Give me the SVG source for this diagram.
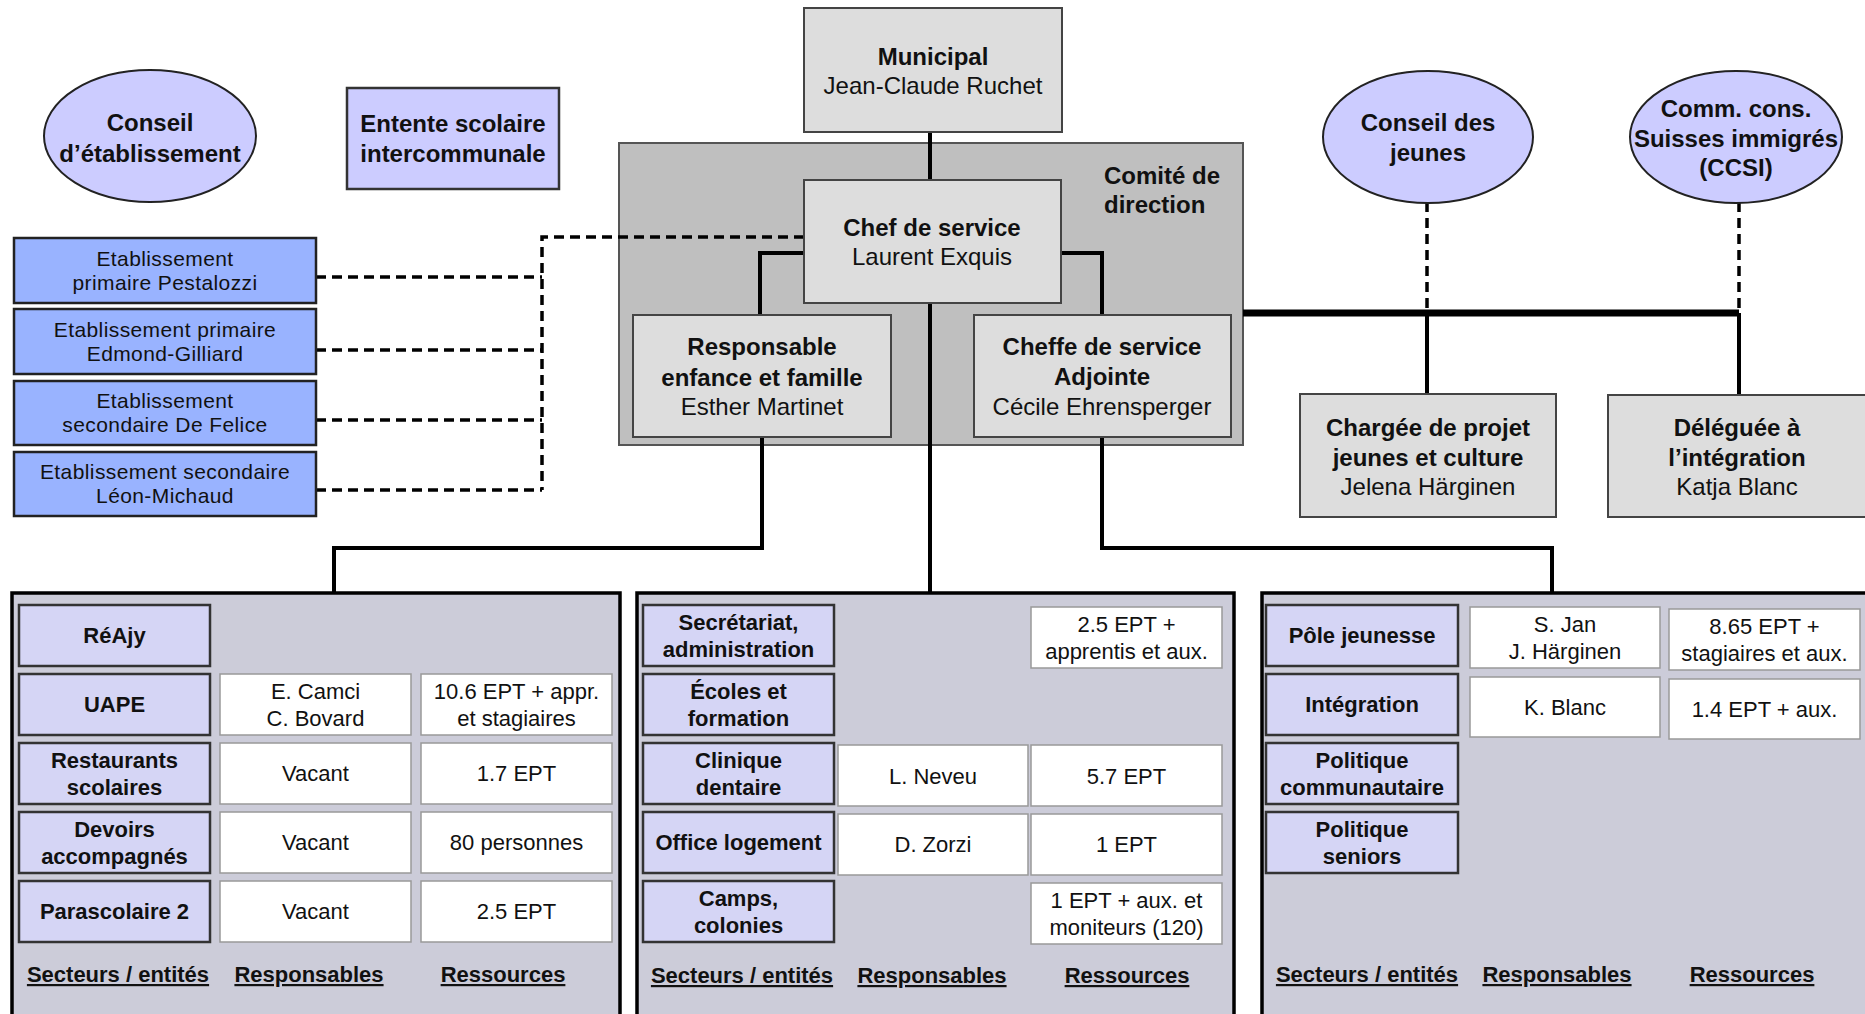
<svg xmlns="http://www.w3.org/2000/svg" width="1865" height="1014" viewBox="0 0 1865 1014">
<style>
text{font-family:"Liberation Sans",Arial,sans-serif;fill:#111;text-anchor:middle}
.t{font-size:24px;font-weight:bold}
.n{font-size:24px}
.e{font-size:21px;letter-spacing:0.4px}
.c{font-size:22px}
.cb{font-size:22px;font-weight:bold}
.f{font-size:22px;font-weight:bold;text-decoration:underline}
.ell{fill:#CCCCFF;stroke:#222;stroke-width:2}
.ent{fill:#CCCCFF;stroke:#333;stroke-width:2.5}
.etab{fill:#99B3FF;stroke:#222;stroke-width:2.5}
.gray{fill:#DDDDDD;stroke:#444;stroke-width:2}
.com{fill:#BFBFBF;stroke:#555;stroke-width:2}
.panel{fill:#CCCCD9;stroke:#000;stroke-width:3.5}
.sec{fill:#D5D5F5;stroke:#333;stroke-width:2.5}
.cell{fill:#fff;stroke:#999;stroke-width:1.5}
.sol{fill:none;stroke:#000;stroke-width:4}
.thick{fill:none;stroke:#000;stroke-width:7}
.dash{fill:none;stroke:#000;stroke-width:3.5;stroke-dasharray:10 6}
</style>

<g id="comite">
<rect class="com" x="619" y="143" width="624" height="302"/>
<text class="t" x="1104" y="184" style="text-anchor:start">Comité de</text>
<text class="t" x="1104" y="213" style="text-anchor:start">direction</text>
</g>

<g id="connectors">
<path class="sol" d="M930 132V180"/>
<path class="sol" d="M804 253H760V315"/>
<path class="sol" d="M1061 253H1102V315"/>
<path class="sol" d="M930 303V593"/>
<path class="sol" d="M762 437V548H334V593"/>
<path class="sol" d="M1102 437V548H1552V593"/>
<path class="thick" d="M1243 313H1739"/>
<path class="sol" d="M1427 313V394"/>
<path class="sol" d="M1739 313V395"/>
<path class="dash" d="M1427 202V313"/>
<path class="dash" d="M1739 202V313"/>
<path class="dash" d="M804 237H542V490"/>
<path class="dash" d="M316 277H542"/>
<path class="dash" d="M316 350H542"/>
<path class="dash" d="M316 420H542"/>
<path class="dash" d="M316 490H542"/>
</g>

<g id="conseil-etablissement">
<ellipse class="ell" cx="150" cy="136" rx="106" ry="66"/>
<text class="t" x="150" y="131">Conseil</text>
<text class="t" x="150" y="162">d’établissement</text>
</g>

<g id="entente">
<rect class="ent" x="347" y="88" width="212" height="101"/>
<text class="t" x="453" y="132">Entente scolaire</text>
<text class="t" x="453" y="162">intercommunale</text>
</g>

<g id="municipal">
<rect class="gray" x="804" y="8" width="258" height="124"/>
<text class="t" x="933" y="65">Municipal</text>
<text class="n" x="933" y="94">Jean-Claude Ruchet</text>
</g>

<g id="chef">
<rect class="gray" x="804" y="180" width="257" height="123"/>
<text class="t" x="932" y="236">Chef de service</text>
<text class="n" x="932" y="265">Laurent Exquis</text>
</g>

<g id="responsable">
<rect class="gray" x="633" y="315" width="258" height="122"/>
<text class="t" x="762" y="355">Responsable</text>
<text class="t" x="762" y="386">enfance et famille</text>
<text class="n" x="762" y="415">Esther Martinet</text>
</g>

<g id="cheffe">
<rect class="gray" x="974" y="315" width="257" height="122"/>
<text class="t" x="1102" y="355">Cheffe de service</text>
<text class="t" x="1102" y="385">Adjointe</text>
<text class="n" x="1102" y="415">Cécile Ehrensperger</text>
</g>

<g id="conseil-jeunes">
<ellipse class="ell" cx="1428" cy="137" rx="105" ry="66"/>
<text class="t" x="1428" y="131">Conseil des</text>
<text class="t" x="1428" y="161">jeunes</text>
</g>

<g id="ccsi">
<ellipse class="ell" cx="1736" cy="137" rx="106" ry="66"/>
<text class="t" x="1736" y="117">Comm. cons.</text>
<text class="t" x="1736" y="147">Suisses immigrés</text>
<text class="t" x="1736" y="176">(CCSI)</text>
</g>

<g id="chargee">
<rect class="gray" x="1300" y="394" width="256" height="123"/>
<text class="t" x="1428" y="436">Chargée de projet</text>
<text class="t" x="1428" y="466">jeunes et culture</text>
<text class="n" x="1428" y="495">Jelena Härginen</text>
</g>

<g id="deleguee">
<rect class="gray" x="1608" y="395" width="262" height="122"/>
<text class="t" x="1737" y="436">Déléguée à</text>
<text class="t" x="1737" y="466">l’intégration</text>
<text class="n" x="1737" y="495">Katja Blanc</text>
</g>

<g id="etab-pestalozzi">
<rect class="etab" x="14" y="238" width="302" height="65"/>
<text class="e" x="165" y="266">Etablissement</text>
<text class="e" x="165" y="290">primaire Pestalozzi</text>
</g>
<g id="etab-edmond-gilliard">
<rect class="etab" x="14" y="309" width="302" height="65"/>
<text class="e" x="165" y="337">Etablissement primaire</text>
<text class="e" x="165" y="361">Edmond-Gilliard</text>
</g>
<g id="etab-de-felice">
<rect class="etab" x="14" y="381" width="302" height="64"/>
<text class="e" x="165" y="408">Etablissement</text>
<text class="e" x="165" y="432">secondaire De Felice</text>
</g>
<g id="etab-leon-michaud">
<rect class="etab" x="14" y="452" width="302" height="64"/>
<text class="e" x="165" y="479">Etablissement secondaire</text>
<text class="e" x="165" y="503">Léon-Michaud</text>
</g>

<g id="panel-enfance">
<rect class="panel" x="12" y="593" width="608" height="440"/>
<rect class="sec" x="19" y="605" width="191" height="61"/>
<text class="cb" x="114.5" y="643">RéAjy</text>
<rect class="sec" x="19" y="674" width="191" height="61"/>
<text class="cb" x="114.5" y="712">UAPE</text>
<rect class="cell" x="220" y="674" width="191" height="61"/>
<text class="c" x="315.5" y="699">E. Camci</text>
<text class="c" x="315.5" y="726">C. Bovard</text>
<rect class="cell" x="421" y="674" width="191" height="61"/>
<text class="c" x="516.5" y="699">10.6 EPT + appr.</text>
<text class="c" x="516.5" y="726">et stagiaires</text>
<rect class="sec" x="19" y="743" width="191" height="61"/>
<text class="cb" x="114.5" y="768">Restaurants</text>
<text class="cb" x="114.5" y="795">scolaires</text>
<rect class="cell" x="220" y="743" width="191" height="61"/>
<text class="c" x="315.5" y="781">Vacant</text>
<rect class="cell" x="421" y="743" width="191" height="61"/>
<text class="c" x="516.5" y="781">1.7 EPT</text>
<rect class="sec" x="19" y="812" width="191" height="61"/>
<text class="cb" x="114.5" y="837">Devoirs</text>
<text class="cb" x="114.5" y="864">accompagnés</text>
<rect class="cell" x="220" y="812" width="191" height="61"/>
<text class="c" x="315.5" y="850">Vacant</text>
<rect class="cell" x="421" y="812" width="191" height="61"/>
<text class="c" x="516.5" y="850">80 personnes</text>
<rect class="sec" x="19" y="881" width="191" height="61"/>
<text class="cb" x="114.5" y="919">Parascolaire 2</text>
<rect class="cell" x="220" y="881" width="191" height="61"/>
<text class="c" x="315.5" y="919">Vacant</text>
<rect class="cell" x="421" y="881" width="191" height="61"/>
<text class="c" x="516.5" y="919">2.5 EPT</text>
<text class="f" x="118" y="982">Secteurs / entités</text>
<text class="f" x="309" y="982">Responsables</text>
<text class="f" x="503" y="982">Ressources</text>
</g>

<g id="panel-service">
<rect class="panel" x="637" y="593" width="597" height="440"/>
<rect class="sec" x="643" y="605" width="191" height="61"/>
<text class="cb" x="738.5" y="630">Secrétariat,</text>
<text class="cb" x="738.5" y="657">administration</text>
<rect class="cell" x="1031" y="607" width="191" height="61"/>
<text class="c" x="1126.5" y="632">2.5 EPT +</text>
<text class="c" x="1126.5" y="659">apprentis et aux.</text>
<rect class="sec" x="643" y="674" width="191" height="61"/>
<text class="cb" x="738.5" y="699">Écoles et</text>
<text class="cb" x="738.5" y="726">formation</text>
<rect class="sec" x="643" y="743" width="191" height="61"/>
<text class="cb" x="738.5" y="768">Clinique</text>
<text class="cb" x="738.5" y="795">dentaire</text>
<rect class="cell" x="838" y="745" width="190" height="61"/>
<text class="c" x="933" y="784">L. Neveu</text>
<rect class="cell" x="1031" y="745" width="191" height="61"/>
<text class="c" x="1126.5" y="784">5.7 EPT</text>
<rect class="sec" x="643" y="812" width="191" height="61"/>
<text class="cb" x="738.5" y="850">Office logement</text>
<rect class="cell" x="838" y="814" width="190" height="61"/>
<text class="c" x="933" y="852">D. Zorzi</text>
<rect class="cell" x="1031" y="814" width="191" height="61"/>
<text class="c" x="1126.5" y="852">1 EPT</text>
<rect class="sec" x="643" y="881" width="191" height="61"/>
<text class="cb" x="738.5" y="906">Camps,</text>
<text class="cb" x="738.5" y="933">colonies</text>
<rect class="cell" x="1031" y="883" width="191" height="61"/>
<text class="c" x="1126.5" y="908">1 EPT + aux. et</text>
<text class="c" x="1126.5" y="935">moniteurs (120)</text>
<text class="f" x="742" y="983">Secteurs / entités</text>
<text class="f" x="932" y="983">Responsables</text>
<text class="f" x="1127" y="983">Ressources</text>
</g>

<g id="panel-jeunesse">
<rect class="panel" x="1262" y="593" width="620" height="440"/>
<rect class="sec" x="1266" y="605" width="192" height="61"/>
<text class="cb" x="1362" y="643">Pôle jeunesse</text>
<rect class="cell" x="1470" y="607" width="190" height="61"/>
<text class="c" x="1565" y="632">S. Jan</text>
<text class="c" x="1565" y="659">J. Härginen</text>
<rect class="cell" x="1669" y="609" width="191" height="61"/>
<text class="c" x="1764.5" y="634">8.65 EPT +</text>
<text class="c" x="1764.5" y="661">stagiaires et aux.</text>
<rect class="sec" x="1266" y="674" width="192" height="61"/>
<text class="cb" x="1362" y="712">Intégration</text>
<rect class="cell" x="1470" y="677" width="190" height="60"/>
<text class="c" x="1565" y="715">K. Blanc</text>
<rect class="cell" x="1669" y="679" width="191" height="60"/>
<text class="c" x="1764.5" y="717">1.4 EPT + aux.</text>
<rect class="sec" x="1266" y="743" width="192" height="61"/>
<text class="cb" x="1362" y="768">Politique</text>
<text class="cb" x="1362" y="795">communautaire</text>
<rect class="sec" x="1266" y="812" width="192" height="61"/>
<text class="cb" x="1362" y="837">Politique</text>
<text class="cb" x="1362" y="864">seniors</text>
<text class="f" x="1367" y="982">Secteurs / entités</text>
<text class="f" x="1557" y="982">Responsables</text>
<text class="f" x="1752" y="982">Ressources</text>
</g>
</svg>
